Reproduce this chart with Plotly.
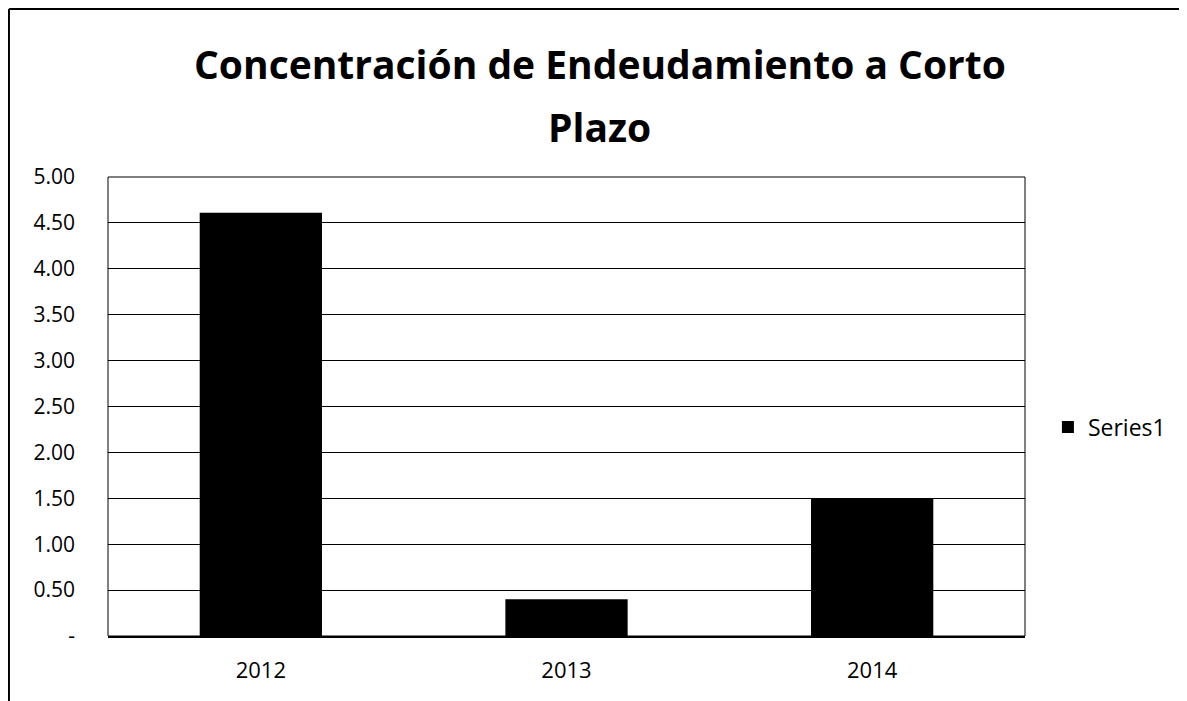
import plotly.graph_objects as go

# data
years = ["2012", "2013", "2014"]
values = [4.61, 0.40, 1.50]
y_ticks = [0, 0.5, 1.0, 1.5, 2.0, 2.5, 3.0, 3.5, 4.0, 4.5, 5.0]
y_tick_labels = ["-", "0.50", "1.00", "1.50", "2.00", "2.50", "3.00", "3.50", "4.00", "4.50", "5.00"]

font_family = "Open Sans, Noto Sans, sans-serif"

fig = go.Figure()
fig.add_trace(go.Bar(
    x=years, y=values, name="Series1",
    marker=dict(color="black", line=dict(width=0)),
    showlegend=True,
))

# outer chart border (left and top visible in reference)
border = dict(color="black", width=2)
fig.add_shape(type="line", xref="paper", yref="paper", x0=-0.108, x1=-0.108, y0=1.366, y1=-0.2, line=border)
fig.add_shape(type="line", xref="paper", yref="paper", x0=-0.108, x1=1.3, y0=1.366, y1=1.366, line=border)
# plot area frame
fig.add_shape(type="rect", xref="paper", yref="paper", x0=0, x1=1, y0=0, y1=1,
              line=dict(color="black", width=1), layer="below")

# title, two lines
title_font = dict(family=font_family, size=39, color="black")
fig.add_annotation(text="<b>Concentración de Endeudamiento a Corto</b>", xref="paper", yref="paper",
                   x=0.5365, y=1.248, yanchor="middle", showarrow=False, font=title_font)
fig.add_annotation(text="<b>Plazo</b>", xref="paper", yref="paper",
                   x=0.5365, y=1.109, yanchor="middle", showarrow=False, font=title_font)

fig.update_layout(
    width=1179, height=693,
    margin=dict(l=100, r=162, t=169, b=65),
    paper_bgcolor="white", plot_bgcolor="white",
    bargap=0.6,
    font=dict(family=font_family, color="black"),
    legend=dict(x=1.025, y=0.455, xanchor="left", yanchor="middle",
                font=dict(size=23, color="black"), itemwidth=30),
)
fig.update_yaxes(
    range=[0, 5], tickvals=y_ticks, ticktext=y_tick_labels,
    showgrid=True, gridcolor="black", gridwidth=1, zeroline=False,
    ticks="", ticklabelstandoff=32, tickfont=dict(size=21, color="black"),
)
fig.update_xaxes(
    showline=True, linecolor="black", linewidth=2,
    ticks="", ticklabelstandoff=14, tickfont=dict(size=22, color="black"),
)

fig.write_html("out.html")
